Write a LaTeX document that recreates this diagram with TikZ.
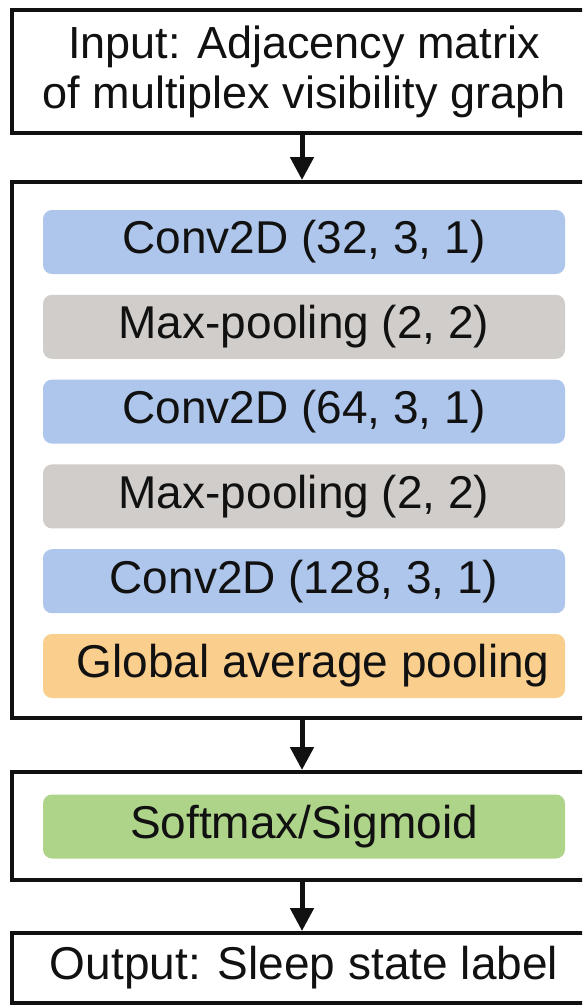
\documentclass[tikz,border=0pt]{standalone}
\usepackage{fontspec}
\setmainfont{Liberation Sans}
\usetikzlibrary{arrows.meta}
\definecolor{cblue}{RGB}{174,198,235}
\definecolor{cgray}{RGB}{208,205,202}
\definecolor{corange}{RGB}{250,206,140}
\definecolor{cgreen}{RGB}{174,212,138}
\definecolor{ink}{RGB}{17,17,17}
\begin{document}
\begin{tikzpicture}[x=1pt,y=-1pt,
  txt/.style={font=\fontsize{46}{50}\selectfont, text=ink, align=center},
  outerbox/.style={txt, draw=ink, line width=4pt, fill=white, minimum width=584pt, inner sep=0pt},
  layer/.style={txt, rounded corners=9pt, minimum width=522pt, minimum height=64pt, inner sep=0pt},
  flow/.style={draw=ink, line width=5pt, -{Triangle[width=23pt,length=23pt]}}
]
\useasboundingbox (0,0) rectangle (582,1005);
\clip (0,0) rectangle (582,1005);
\node[outerbox, minimum height=123pt, font=\fontsize{45}{50}\selectfont] (in) at (304,71.5) {Input: Adjacency matrix\\of multiplex visibility graph};
\node[outerbox, minimum height=536pt] (cnn) at (304,450) {};
\node[layer, fill=cblue] (c1) at (304,242) {Conv2D (32, 3, 1)};
\node[layer, fill=cgray] (p1) at (304,326.8) {Max-pooling (2, 2)};
\node[layer, fill=cblue] (c2) at (304,411.6) {Conv2D (64, 3, 1)};
\node[layer, fill=cgray] (p2) at (304,496.4) {Max-pooling (2, 2)};
\node[layer, fill=cblue] (c3) at (304,581.2) {Conv2D (128, 3, 1)};
\node[layer, fill=corange] (gap) at (304,666) {\hspace*{18pt}Global average pooling};
\node[outerbox, minimum height=108pt] (cls) at (304,826) {};
\node[layer, fill=cgreen] (sm) at (304,826.5) {Softmax/Sigmoid};
\node[outerbox, minimum height=70pt] (out) at (304,968) {Output: Sleep state label};
\draw[flow] ([xshift=-2pt]in.south) -- ([xshift=-2pt]cnn.north);
\draw[flow] ([xshift=-2pt]cnn.south) -- ([xshift=-2pt]cls.north);
\draw[flow] ([xshift=-2pt]cls.south) -- ([xshift=-2pt]out.north);
\end{tikzpicture}
\end{document}
